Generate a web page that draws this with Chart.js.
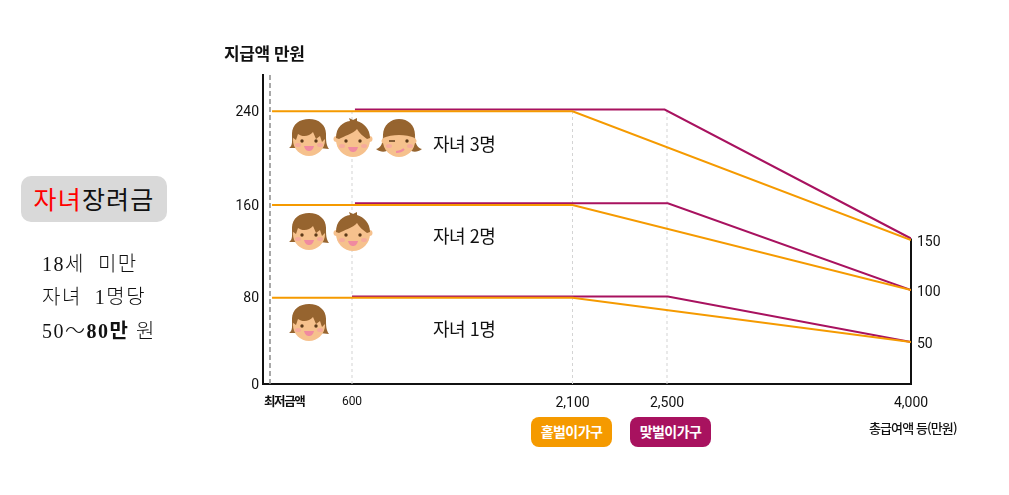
<!DOCTYPE html>
<html lang="ko">
<head>
<meta charset="utf-8">
<script src="https://cdn.jsdelivr.net/npm/chart.js@4"></script>
<style>
    body { margin: 0; background: #fff; width: 1009px; height: 495px; position: relative; overflow: hidden; font-family: "Noto Sans CJK KR", sans-serif; color: #111; }
    canvas { position: absolute; left: 0; top: 0; }
    .txt { position: absolute; white-space: nowrap; line-height: 1; }
    .kid { position: absolute; }
    .badge { position: absolute; top: 417px; height: 30px; line-height: 29px; border-radius: 8px; color: #fff; font-size: 14px; font-weight: 700; text-align: center; letter-spacing: -0.6px; }
    #heading { position: absolute; left: 21px; top: 176px; width: 146px; height: 46px; line-height: 45px; border-radius: 10px; background: #d9d9d9; text-align: center; font-size: 25px; letter-spacing: 1.2px; }
    .note { position: absolute; left: 42px; font-family: "Liberation Serif", "Noto Sans CJK KR", serif; font-size: 20px; letter-spacing: 1.5px; line-height: 1; white-space: nowrap; font-weight: 300; }
</style>
</head>
<body>
<canvas id="myChart" width="1009" height="495"></canvas>

<!-- left panel -->
<div id="heading"><span style="color:#f00">자녀</span>장려금</div>
<div class="note" style="top:254px">18세&nbsp;&nbsp;미만</div>
<div class="note" style="top:287px">자녀&nbsp;&nbsp;1명당</div>
<div class="note" style="top:321px">50～<b style="font-weight:700">80만</b> 원</div>

<!-- axis captions -->
<div class="txt" style="left:224px;top:44px;font-size:17px;font-weight:700;letter-spacing:-0.4px">지급액 만원</div>
<div class="txt" style="left:264px;top:395px;font-size:12.5px;font-weight:700;letter-spacing:-1.4px">최저금액</div>
<div class="txt" style="left:869px;top:421px;font-size:13px;font-weight:500;letter-spacing:-0.9px">총급여액 등(만원)</div>

<!-- row captions -->
<div class="txt" style="left:433px;top:134px;font-size:18px;letter-spacing:-0.5px">자녀 3명</div>
<div class="txt" style="left:433px;top:226px;font-size:18px;letter-spacing:-0.5px">자녀 2명</div>
<div class="txt" style="left:433px;top:319px;font-size:18px;letter-spacing:-0.5px">자녀 1명</div>

<div class="badge" style="left:531px;width:81px;background:#f59a00">홑벌이가구</div>
<div class="badge" style="left:630px;width:81px;background:#a8125f">맞벌이가구</div>

<!-- faces -->
<svg width="0" height="0" style="position:absolute">
    <symbol id="girl" viewBox="0 0 40 37">
        <path d="M0 29C4 27 3 21 3 15 3 5 11 0 20 0 30 0 37 6 37 15 37 21 37 26 40 30L30 29H10Z" fill="#96642f"/>
        <circle cx="20" cy="21" r="16" fill="#f6c18d"/>
        <path d="M3 18C3 8 11 1 20 1 30 1 37 9 37 19L33 23 31 17 27 20 24 13C20 18 13 18 9 15L7 21Z" fill="#96642f"/>
        <circle cx="13" cy="22" r="1.7" fill="#5c3a1a"/><circle cx="27" cy="22" r="1.7" fill="#5c3a1a"/>
        <ellipse cx="9" cy="26" rx="3" ry="2" fill="#f6ab9c"/><ellipse cx="31" cy="26" rx="3" ry="2" fill="#f6ab9c"/>
        <path d="M15 27H25C24 31 22 32 20 32 18 32 16 31 15 27Z" fill="#f08aa0"/>
    </symbol>
    <symbol id="boy" viewBox="0 0 40 39">
        <circle cx="3.5" cy="21" r="3" fill="#f6c18d"/><circle cx="36.5" cy="21" r="3" fill="#f6c18d"/>
        <circle cx="20" cy="22" r="17" fill="#f6c18d"/>
        <path d="M3 20C3 9 10 4 17 3L16 0 20 2 24 0 24 3C31 5 37 11 37 20L34 21C30 18 26 15 24 11 20 16 11 18 6 21Z" fill="#96642f"/>
        <circle cx="13" cy="23" r="1.7" fill="#5c3a1a"/><circle cx="27" cy="23" r="1.7" fill="#5c3a1a"/>
        <ellipse cx="9" cy="28" rx="3" ry="2" fill="#f6ab9c"/><ellipse cx="31" cy="28" rx="3" ry="2" fill="#f6ab9c"/>
        <path d="M15 29H25C24 33 22 34 20 34 18 34 16 33 15 29Z" fill="#f08aa0"/>
    </symbol>
    <symbol id="girl2" viewBox="0 0 46 38">
        <path d="M0 30C5 29 7 24 7 16 7 6 15 0 23 0 32 0 39 6 39 16 39 24 41 29 46 30 41 34 35 33 33 30H13C11 33 5 34 0 30Z" fill="#96642f"/>
        <circle cx="8" cy="22" r="2.5" fill="#f6c18d"/><circle cx="38" cy="22" r="2.5" fill="#f6c18d"/>
        <circle cx="23" cy="22" r="16" fill="#f6c18d"/>
        <path d="M7 19C8 9 15 3 23 3 31 3 38 9 39 19 30 15 16 15 7 19Z" fill="#96642f"/>
        <path d="M13 22H19" stroke="#5c3a1a" stroke-width="1.5"/><circle cx="31" cy="22" r="1.7" fill="#5c3a1a"/>
        <ellipse cx="13" cy="27" rx="3" ry="2" fill="#f6ab9c"/><ellipse cx="34" cy="27" rx="3" ry="2" fill="#f6ab9c"/>
        <path d="M20 33C23 33 26 32 28 30" stroke="#f08aa0" stroke-width="2" fill="none"/>
    </symbol>
</svg>
<svg class="kid" style="left:289px;top:119px" width="40" height="37"><use href="#girl"/></svg>
<svg class="kid" style="left:333px;top:118px" width="40" height="39"><use href="#boy"/></svg>
<svg class="kid" style="left:376px;top:119px" width="46" height="38"><use href="#girl2"/></svg>
<svg class="kid" style="left:289px;top:213px" width="40" height="37"><use href="#girl"/></svg>
<svg class="kid" style="left:333px;top:212px" width="40" height="39"><use href="#boy"/></svg>
<svg class="kid" style="left:289px;top:304px" width="40" height="37"><use href="#girl"/></svg>

<script>
// Axis ticks
const incomeTicks = [600, 2100, 2500, 4000];
const amountTicks = [0, 80, 160, 240];
const rightTicks = [50, 100, 150];

// Single earner households
const singleIncome = [15, 2100, 4000];
const singleThree = [240, 240, 150];
const singleTwo = [160, 160, 100];
const singleOne = [80, 80, 50];

// Dual earner households
const dualIncomeThree = [620, 2490, 4000];
const dualIncomeTwo = [620, 2505, 4000];
const dualIncomeOne = [600, 2505, 4000];
const dualThree = [242, 242, 152];
const dualTwo = [162, 162, 100];
const dualOne = [82, 82, 50];

// Guides
const minimumWage = 0;
const guideIncome = [600, 2100, 2500];
const guideTop = 240;
const axisTop = 270;

const ORANGE = '#f59a00';
const PURPLE = '#a8125f';
const TICK_FONT = 'Roboto';

// The original picture is not drawn to scale, so the axes go through fixed knots
class KnotScale extends Chart.LinearScale {
    static id = 'knot';
    static defaults = {};

    getPixelForValue(value) {
        const { values, pixels } = this.options.knots;
        let i = 1;
        while (i < values.length - 1 && value > values[i]) i++;
        const t = (value - values[i - 1]) / (values[i] - values[i - 1]);
        return pixels[i - 1] + t * (pixels[i] - pixels[i - 1]);
    }

    getValueForPixel(pixel) {
        const { values, pixels } = this.options.knots;
        let i = 1;
        while (i < values.length - 1 && (pixel - pixels[i]) * (pixels[1] - pixels[0]) > 0) i++;
        const t = (pixel - pixels[i - 1]) / (pixels[i] - pixels[i - 1]);
        return values[i - 1] + t * (values[i] - values[i - 1]);
    }
}
Chart.register(KnotScale);

const xKnots = { values: [-50, 0, 600, 2100, 2500, 4000], pixels: [263, 270, 352, 572.5, 667, 911] };
const yKnots = {
    values: [0, 50, 80, 82, 100, 150, 152, 160, 162, 240, 242, 270],
    pixels: [384, 342, 297.7, 296.5, 290, 240, 238.5, 205, 203.3, 111.2, 109.5, 75]
};

function toPoints(xs, ys) {
    return xs.map((x, i) => ({ x: x, y: ys[i] }));
}

function earnerLine(label, xs, ys, color) {
    return { label: label, data: toPoints(xs, ys), borderColor: color, borderWidth: 2, pointRadius: 0, tension: 0 };
}

function guideLine(x) {
    return {
        label: 'guide', data: toPoints([x, x], [0, guideTop]),
        borderColor: '#d4d4d4', borderWidth: 1, borderDash: [3, 3], pointRadius: 0
    };
}

// fixed box sizes, and no margin asked for overhanging labels
function pinBox(size) {
    return s => {
        if (s.isHorizontal()) s.height = size; else s.width = size;
        s.paddingLeft = s.paddingRight = s.paddingTop = s.paddingBottom = 0;
    };
}

new Chart(document.getElementById('myChart'), {
    type: 'scatter',
    data: {
        datasets: [
            earnerLine('홑벌이가구 자녀 3명', singleIncome, singleThree, ORANGE),
            earnerLine('홑벌이가구 자녀 2명', singleIncome, singleTwo, ORANGE),
            earnerLine('홑벌이가구 자녀 1명', singleIncome, singleOne, ORANGE),
            earnerLine('맞벌이가구 자녀 3명', dualIncomeThree, dualThree, PURPLE),
            earnerLine('맞벌이가구 자녀 2명', dualIncomeTwo, dualTwo, PURPLE),
            earnerLine('맞벌이가구 자녀 1명', dualIncomeOne, dualOne, PURPLE),
            ...guideIncome.map(guideLine),
            {
                label: '최저금액', data: toPoints([minimumWage, minimumWage], [0, axisTop]),
                borderColor: '#8c8c8c', borderWidth: 1.5, borderDash: [5, 3], pointRadius: 0
            },
            // right axis only runs up to the 150 mark
            {
                label: 'right axis', data: toPoints([4000, 4000], [0, 152]),
                borderColor: '#111', borderWidth: 2, pointRadius: 0, clip: false
            }
        ]
    },
    options: {
        responsive: false,
        animation: false,
        showLine: true,
        layout: { padding: { top: 75 } },
        plugins: { legend: { display: false }, tooltip: { enabled: false } },
        scales: {
            x: {
                type: 'knot',
                knots: xKnots,
                min: -50,
                max: 4000,
                afterFit: pinBox(111),
                afterBuildTicks: s => { s.ticks = incomeTicks.map(v => ({ value: v })); },
                grid: { display: false },
                border: { color: '#111', width: 2 },
                ticks: {
                    autoSkip: false,
                    maxRotation: 0,
                    padding: 3,
                    color: '#111',
                    font: c => ({ family: TICK_FONT, size: c.index === 0 ? 12 : 14 }),
                    callback: v => v.toLocaleString('en-US')
                }
            },
            y: {
                type: 'knot',
                knots: yKnots,
                min: 0,
                max: axisTop,
                afterFit: pinBox(263),
                afterBuildTicks: s => { s.ticks = amountTicks.map(v => ({ value: v })); },
                grid: { display: false, tickLength: 1 },
                border: { color: '#111', width: 2 },
                ticks: {
                    autoSkip: false,
                    padding: 3,
                    labelOffset: 1,
                    color: '#111',
                    font: { family: TICK_FONT, size: 14 }
                }
            },
            y2: {
                type: 'knot',
                position: 'right',
                knots: yKnots,
                min: 0,
                max: axisTop,
                afterFit: pinBox(98),
                afterBuildTicks: s => { s.ticks = rightTicks.map(v => ({ value: v })); },
                grid: { display: false, drawOnChartArea: false, tickLength: 1 },
                border: { display: false },
                ticks: {
                    autoSkip: false,
                    padding: 5,
                    labelOffset: 2,
                    color: '#111',
                    font: { family: TICK_FONT, size: 14 }
                }
            }
        }
    }
});
</script>
</body>
</html>
